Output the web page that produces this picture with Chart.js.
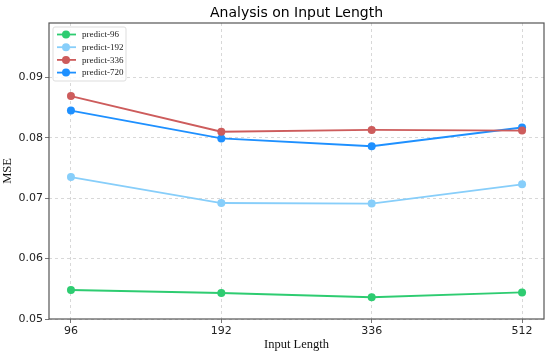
<!DOCTYPE html>
<html>
<head>
<meta charset="utf-8">
<script src="https://cdn.jsdelivr.net/npm/chart.js@4"></script>
<style>
  html, body { margin: 0; padding: 0; background: #fff; }
  #wrap { width: 550px; height: 356px; }
</style>
</head>
<body>
<div id="wrap"><canvas id="chart" width="550" height="356"></canvas></div>
<script>
// input lengths on the x axis
const inputLengths = ['96', '192', '336', '512'];

// MSE per prediction horizon
const predict96 = [0.0548, 0.0543, 0.0536, 0.0544];
const predict192 = [0.0735, 0.0692, 0.0691, 0.0723];
const predict336 = [0.0869, 0.0810, 0.0813, 0.0812];
const predict720 = [0.0845, 0.0799, 0.0786, 0.0817];

const seriesNames = ['predict-96', 'predict-192', 'predict-336', 'predict-720'];
const seriesColors = ['#2ecc71', '#87cefa', '#cd5c5c', '#1e90ff'];

const yTicks = [0.05, 0.06, 0.07, 0.08, 0.09];

const toPoints = vals => vals.map((v, i) => ({ x: i, y: v }));

const datasets = [predict96, predict192, predict336, predict720].map((vals, i) => ({
    label: seriesNames[i],
    data: toPoints(vals),
    borderColor: seriesColors[i],
    backgroundColor: seriesColors[i],
    borderWidth: 1.8,
    pointRadius: 4,
    pointHoverRadius: 4,
    pointBorderWidth: 0,
    tension: 0
}));

// frame, title and the in-plot legend
const decorPlugin = {
    id: 'decor',
    afterDraw(chart) {
        const { ctx, chartArea: a } = chart;
        ctx.save();
        ctx.strokeStyle = '#555';
        ctx.lineWidth = 1.2;
        ctx.strokeRect(a.left, a.top, a.right - a.left, a.bottom - a.top);

        ctx.fillStyle = '#000';
        ctx.font = '14px "DejaVu Sans"';
        ctx.textAlign = 'center';
        ctx.textBaseline = 'middle';
        ctx.fillText('Analysis on Input Length', (a.left + a.right) / 2, 13);

        // legend box
        const bx = a.left + 4, by = a.top + 4, bw = 73, bh = 54;
        ctx.fillStyle = 'rgba(255,255,255,0.85)';
        ctx.strokeStyle = '#ddd';
        ctx.lineWidth = 1;
        ctx.beginPath();
        ctx.roundRect(bx, by, bw, bh, 2);
        ctx.fill();
        ctx.stroke();

        ctx.font = '9px "Liberation Serif"';
        ctx.textAlign = 'left';
        chart.data.datasets.forEach((ds, i) => {
            const y = by + 7.5 + i * 12.7;
            ctx.strokeStyle = ds.borderColor;
            ctx.lineWidth = 1.8;
            ctx.beginPath();
            ctx.moveTo(bx + 4, y);
            ctx.lineTo(bx + 23, y);
            ctx.stroke();
            ctx.fillStyle = ds.backgroundColor;
            ctx.beginPath();
            ctx.arc(bx + 13, y, 4, 0, Math.PI * 2);
            ctx.fill();
            ctx.fillStyle = '#222';
            ctx.fillText(ds.label, bx + 29, y + 0.5);
        });
        ctx.restore();
    }
};

new Chart(document.getElementById('chart'), {
    type: 'line',
    data: { datasets },
    options: {
        responsive: false,
        animation: false,
        layout: { padding: { top: 23, right: 6, left: 0, bottom: 0 } },
        plugins: {
            legend: { display: false },
            title: { display: false },
            tooltip: { enabled: false }
        },
        scales: {
            x: {
                type: 'linear',
                min: -0.146,
                max: 3.146,
                afterBuildTicks: scale => { scale.ticks = inputLengths.map((_, i) => ({ value: i })); },
                afterFit: scale => { scale.height = 37; },
                ticks: {
                    callback: v => inputLengths[v],
                    color: '#222',
                    font: { family: 'DejaVu Sans', size: 11 },
                    padding: 2,
                    maxRotation: 0
                },
                grid: {
                    color: '#cfcfcf',
                    lineWidth: 0.8,
                    tickColor: '#555',
                    tickLength: 4,
                    drawTicks: true
                },
                border: { display: false, dash: [3, 3] },
                title: {
                    display: true,
                    text: 'Input Length',
                    color: '#111',
                    font: { family: 'Liberation Serif', size: 12.5 },
                    padding: { top: 0, bottom: 4 }
                }
            },
            y: {
                min: 0.05,
                max: 0.099,
                afterBuildTicks: scale => { scale.ticks = yTicks.map(v => ({ value: v })); },
                afterFit: scale => { scale.width = 49; },
                ticks: {
                    callback: v => v.toFixed(2),
                    color: '#222',
                    font: { family: 'DejaVu Sans', size: 11 },
                    padding: 2
                },
                grid: {
                    color: '#cfcfcf',
                    lineWidth: 0.8,
                    tickColor: '#555',
                    tickLength: 4
                },
                border: { display: false, dash: [3, 3] },
                title: {
                    display: true,
                    text: 'MSE',
                    color: '#111',
                    font: { family: 'Liberation Serif', size: 12.5 },
                    padding: { top: 0, bottom: 0 }
                }
            }
        }
    },
    plugins: [decorPlugin]
});
</script>
</body>
</html>
